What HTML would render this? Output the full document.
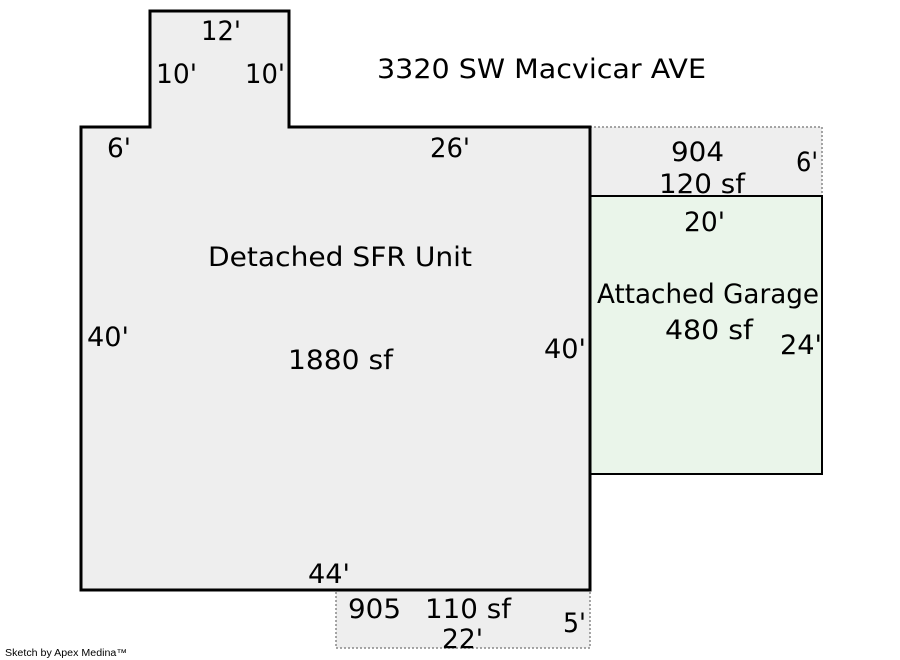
<!DOCTYPE html>
<html><head><style>html,body{margin:0;padding:0;background:#fff;width:900px;height:660px;overflow:hidden}</style></head>
<body>
<svg width="900" height="660" xmlns="http://www.w3.org/2000/svg" font-family="'DejaVu Sans','Liberation Sans',sans-serif" font-size="27" fill="#000">
<rect x="590" y="127" width="232" height="69" fill="#eeeeee" stroke="#888" stroke-width="1.5" stroke-dasharray="2,2"/>
<rect x="336" y="590" width="254" height="58" fill="#eeeeee" stroke="#888" stroke-width="1.5" stroke-dasharray="2,2"/>
<rect x="590" y="196" width="232" height="278" fill="#eaf5ea" stroke="#000" stroke-width="2"/>
<polygon points="81,127 150,127 150,11 289,11 289,127 590,127 590,590 81,590" fill="#eeeeee" stroke="#000" stroke-width="3"/>
<g>
<text x="201" y="40" textLength="40" lengthAdjust="spacingAndGlyphs">12'</text>
<text x="156" y="83" textLength="41" lengthAdjust="spacingAndGlyphs">10'</text>
<text x="245" y="83" textLength="40" lengthAdjust="spacingAndGlyphs">10'</text>
<text x="377" y="78" textLength="329" lengthAdjust="spacingAndGlyphs">3320 SW Macvicar AVE</text>
<text x="107" y="157" textLength="24" lengthAdjust="spacingAndGlyphs">6'</text>
<text x="430" y="157" textLength="40" lengthAdjust="spacingAndGlyphs">26'</text>
<text x="671" y="161" textLength="53" lengthAdjust="spacingAndGlyphs">904</text>
<text x="796" y="171" textLength="22" lengthAdjust="spacingAndGlyphs">6'</text>
<text x="659" y="193" textLength="86" lengthAdjust="spacingAndGlyphs">120 sf</text>
<text x="684" y="231" textLength="41" lengthAdjust="spacingAndGlyphs">20'</text>
<text x="208" y="266" textLength="264" lengthAdjust="spacingAndGlyphs">Detached SFR Unit</text>
<text x="597" y="303" textLength="222" lengthAdjust="spacingAndGlyphs">Attached Garage</text>
<text x="665" y="339" textLength="88" lengthAdjust="spacingAndGlyphs">480 sf</text>
<text x="87" y="346" textLength="42" lengthAdjust="spacingAndGlyphs">40'</text>
<text x="544" y="358" textLength="42" lengthAdjust="spacingAndGlyphs">40'</text>
<text x="780" y="354" textLength="42" lengthAdjust="spacingAndGlyphs">24'</text>
<text x="288" y="369" textLength="105" lengthAdjust="spacingAndGlyphs">1880 sf</text>
<text x="308" y="583" textLength="42" lengthAdjust="spacingAndGlyphs">44'</text>
<text x="348" y="618" textLength="53" lengthAdjust="spacingAndGlyphs">905</text>
<text x="425" y="618" textLength="86" lengthAdjust="spacingAndGlyphs">110 sf</text>
<text x="563" y="632" textLength="23" lengthAdjust="spacingAndGlyphs">5'</text>
<text x="442" y="648" textLength="41" lengthAdjust="spacingAndGlyphs">22'</text>
</g>
<text x="5" y="656" font-family="'Liberation Sans',sans-serif" font-size="10" textLength="122" lengthAdjust="spacingAndGlyphs">Sketch by Apex Medina™</text>
</svg>
</body></html>
